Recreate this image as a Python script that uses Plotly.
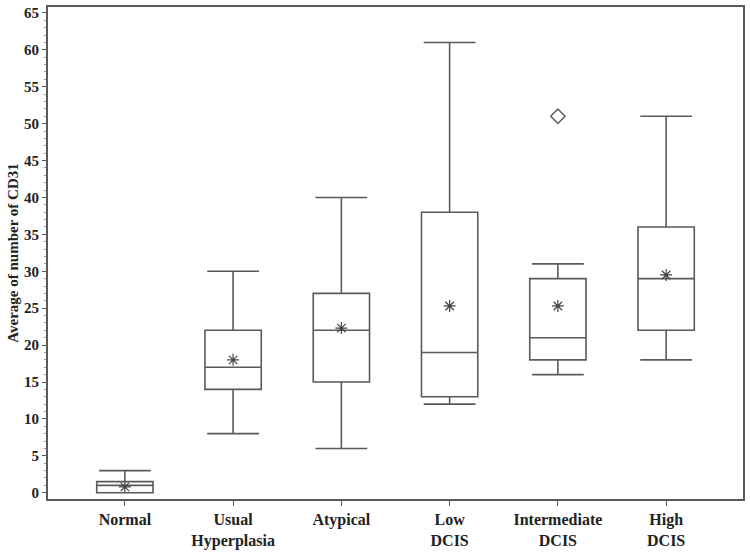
import plotly.graph_objects as go

categories = ["Normal", "Usual<br>Hyperplasia", "Atypical", "Low<br>DCIS", "Intermediate<br>DCIS", "High<br>DCIS"]
lower_whisker = [0, 8, 6, 12, 16, 18]
q1 = [0, 14, 15, 13, 18, 22]
median = [1, 17, 22, 19, 21, 29]
q3 = [1.5, 22, 27, 38, 29, 36]
upper_whisker = [3, 30, 40, 61, 31, 51]
means = [0.8, 18, 22.3, 25.3, 25.3, 29.5]
outlier_cat = ["Intermediate<br>DCIS"]
outlier_val = [51]
y_ticks = list(range(0, 70, 5))

line_col = "#5a5a5a"
xpos = list(range(len(categories)))

fig = go.Figure()
fig.add_trace(go.Box(
    x=xpos, q1=q1, median=median, q3=q3,
    lowerfence=lower_whisker, upperfence=upper_whisker,
    fillcolor="rgba(0,0,0,0)",
    line=dict(color=line_col, width=1.6),
    width=0.52, whiskerwidth=0.92,
    boxpoints=False, showlegend=False, hoverinfo="skip",
))
fig.add_trace(go.Scatter(
    x=xpos, y=means, mode="markers",
    marker=dict(symbol="asterisk-open", size=10, color="#444444", line=dict(color="#444444", width=1.2)),
    showlegend=False,
))
fig.add_trace(go.Scatter(
    x=[categories.index(c) for c in outlier_cat], y=outlier_val, mode="markers",
    marker=dict(symbol="diamond-open", size=11, color=line_col, line=dict(color=line_col, width=1.4)),
    showlegend=False,
))

font_family = "Liberation Serif, Times New Roman, serif"
fig.update_layout(
    width=750, height=553,
    margin=dict(l=48, r=7, t=7, b=54, autoexpand=False),
    paper_bgcolor="white", plot_bgcolor="white",
    font=dict(family=font_family, size=15, color="#222222"),
    xaxis=dict(
        range=[-0.71, 5.71], tickmode="array", tickvals=xpos,
        ticktext=["<b>%s</b>" % c for c in categories],
        showline=True, linecolor=line_col, linewidth=2, mirror=True, automargin=False,
        ticks="outside", ticklen=5, tickcolor=line_col, showgrid=False, zeroline=False,
        tickfont=dict(family=font_family, size=16, color="#222222"),
    ),
    yaxis=dict(
        range=[-0.85, 65.8], tickmode="array", tickvals=y_ticks,
        ticktext=["<b>%d</b>" % v for v in y_ticks],
        showline=True, linecolor=line_col, linewidth=2, mirror=True, automargin=False,
        ticks="outside", ticklen=4, tickcolor=line_col, showgrid=False, zeroline=False,
        minor=dict(dtick=1, ticks="outside", ticklen=2, tickcolor="#999999", showgrid=False),
        tickfont=dict(family=font_family, size=15, color="#222222"),
        title=dict(text="<b>Average of number of CD31</b>", font=dict(family=font_family, size=15, color="#222222"), standoff=2),
    ),
)
fig.write_html("out.html", config={"displayModeBar": False},
               post_script="document.body.style.margin='0';document.body.style.overflow='hidden';")
